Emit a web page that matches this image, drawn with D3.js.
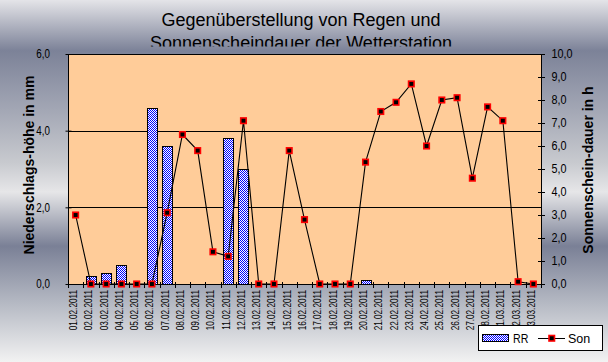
<!DOCTYPE html>
<html>
<head>
<meta charset="utf-8">
<script src="https://cdn.jsdelivr.net/npm/d3@7"></script>
<style>
  html, body { margin: 0; padding: 0; background: #fff; }
  svg { display: block; }
  text { font-family: "Liberation Sans", Arial, sans-serif; fill: #000; }
</style>
</head>
<body>
<div id="chart"></div>
<script>
// data
var categories = ["01.02.2011", "02.02.2011", "03.02.2011", "04.02.2011", "05.02.2011",
  "06.02.2011", "07.02.2011", "08.02.2011", "09.02.2011", "10.02.2011", "11.02.2011",
  "12.02.2011", "13.02.2011", "14.02.2011", "15.02.2011", "16.02.2011", "17.02.2011",
  "18.02.2011", "19.02.2011", "20.02.2011", "21.02.2011", "22.02.2011", "23.02.2011",
  "24.02.2011", "25.02.2011", "26.02.2011", "27.02.2011", "28.02.2011", "01.03.2011",
  "02.03.2011", "03.03.2011"];
var rrValues = [0, 0.2, 0.3, 0.5, 0, 4.6, 3.6, 0, 0, 0, 3.8, 3.0, 0, 0, 0, 0,
  0, 0, 0, 0.1, 0, 0, 0, 0, 0, 0, 0, 0, 0, 0, 0];
var sonValues = [3.0, 0, 0, 0, 0, 0, 3.1, 6.5, 5.8, 1.4, 1.2, 7.1, 0, 0, 5.8, 2.8,
  0, 0, 0, 5.3, 7.5, 7.9, 8.7, 6.0, 8.0, 8.1, 4.6, 7.7, 7.1, 0.1, 0];
var leftTicks = [0, 2, 4, 6];
var rightTicks = [0, 1, 2, 3, 4, 5, 6, 7, 8, 9, 10];
var titleLines = ["Gegenüberstellung von Regen und", "Sonnenscheindauer der Wetterstation"];
var leftTitle = "Niederschlags-höhe in mm";
var rightTitle = "Sonnenschein-dauer in h";
var seriesNames = ["RR", "Son"];

var W = 608, H = 362;
var plot = { left: 68, right: 541, top: 54, bottom: 284 };

var svg = d3.select("#chart").append("svg")
  .attr("width", W).attr("height", H);

var defs = svg.append("defs");
// background gradient
var grad = defs.append("linearGradient").attr("id", "bg")
  .attr("x1", 0).attr("y1", 0).attr("x2", 0).attr("y2", 1);
[[0, "#e4e4e8"], [0.14, "#7c8298"], [0.3, "#a2a6b4"], [0.45, "#c8cacf"],
 [0.53, "#e6e6e8"], [0.68, "#7a8096"], [0.84, "#b6bac4"], [1, "#f2f2f2"]]
  .forEach(function (s) {
    grad.append("stop").attr("offset", s[0]).attr("stop-color", s[1]);
  });
// checker pattern for bars
var pat = defs.append("pattern").attr("id", "chk")
  .attr("width", 2).attr("height", 2).attr("patternUnits", "userSpaceOnUse");
pat.append("rect").attr("width", 2).attr("height", 2).attr("fill", "#fff");
pat.append("rect").attr("width", 1).attr("height", 1).attr("fill", "#0000ff");
pat.append("rect").attr("x", 1).attr("y", 1).attr("width", 1).attr("height", 1).attr("fill", "#0000ff");
defs.append("clipPath").attr("id", "titleClip")
  .append("rect").attr("x", 0).attr("y", 0).attr("width", W).attr("height", 46.5);

svg.append("rect").attr("width", W).attr("height", H).attr("fill", "url(#bg)");

// narrow text (no condensed face installed, so squeeze the glyphs)
function narrowText(sel, px, py, rot, sx) {
  return sel.attr("transform", "translate(" + px + "," + py + ")" +
    (rot ? " rotate(" + rot + ")" : "") + " scale(" + sx + ",1)");
}

// scales
var x = d3.scaleBand().domain(categories).range([plot.left, plot.right]).padding(0);
var yL = d3.scaleLinear().domain([0, 6]).range([plot.bottom, plot.top]);
var yR = d3.scaleLinear().domain([0, 10]).range([plot.bottom, plot.top]);
var fmt = function (d) { return d3.format(".1f")(d).replace(".", ","); };

// plot area
svg.append("rect")
  .attr("x", plot.left).attr("y", plot.top)
  .attr("width", plot.right - plot.left).attr("height", plot.bottom - plot.top)
  .attr("fill", "#ffcc99");

// gridlines
svg.append("g").selectAll("line").data(leftTicks.filter(function (d) { return d > 0 && d < 6; }))
  .enter().append("line")
  .attr("x1", plot.left).attr("x2", plot.right)
  .attr("y1", function (d) { return Math.round(yL(d)) + 0.5; })
  .attr("y2", function (d) { return Math.round(yL(d)) + 0.5; })
  .attr("stroke", "#000").attr("stroke-width", 1);

// bars
var bw = 10;
svg.append("g").selectAll("rect").data(categories.map(function (c, i) { return { c: c, v: rrValues[i] }; })
    .filter(function (d) { return d.v > 0; }))
  .enter().append("rect")
  .attr("x", function (d) { return Math.round(x(d.c) + x.bandwidth() / 2 - bw / 2) + 0.5; })
  .attr("y", function (d) { return Math.round(yL(d.v)) + 0.5; })
  .attr("width", bw)
  .attr("height", function (d) { return Math.round(yL(0)) - Math.round(yL(d.v)); })
  .attr("fill", "url(#chk)")
  .attr("stroke", "#000").attr("stroke-width", 1);

// plot border
svg.append("rect")
  .attr("x", plot.left + 0.5).attr("y", plot.top + 0.5)
  .attr("width", plot.right - plot.left).attr("height", plot.bottom - plot.top)
  .attr("fill", "none").attr("stroke", "#000").attr("stroke-width", 1);

// line series
var line = d3.line()
  .x(function (d, i) { return x(categories[i]) + x.bandwidth() / 2; })
  .y(function (d) { return yR(d); });
svg.append("path").datum(sonValues)
  .attr("d", line).attr("fill", "none")
  .attr("stroke", "#000").attr("stroke-width", 1.1);

svg.append("g").selectAll("rect").data(sonValues).enter().append("rect")
  .attr("x", function (d, i) { return x(categories[i]) + x.bandwidth() / 2 - 2.75; })
  .attr("y", function (d) { return yR(d) - 2.75; })
  .attr("width", 5.5).attr("height", 5.5)
  .attr("fill", "#000").attr("stroke", "#ff0000").attr("stroke-width", 1.6);

// x axis ticks (category boundaries) and labels
var bounds = categories.map(function (c) { return x(c); }).concat([plot.right]);
svg.append("g").selectAll("line").data(bounds).enter().append("line")
  .attr("x1", function (d) { return Math.round(d) + 0.5; })
  .attr("x2", function (d) { return Math.round(d) + 0.5; })
  .attr("y1", plot.bottom - 2).attr("y2", plot.bottom + 4)
  .attr("stroke", "#000");
svg.append("g").selectAll("text").data(categories).enter().append("text")
  .each(function (d) {
    narrowText(d3.select(this), x(d) + x.bandwidth() / 2 + 1.5, plot.bottom + 6, -90, 0.82);
  })
  .attr("text-anchor", "end")
  .style("font-size", "10px")
  .text(function (d) { return d; });

// left axis (ticks from d3, labels squeezed)
var leftAxis = svg.append("g")
  .attr("transform", "translate(" + (plot.left + 3.5) + ",0)")
  .call(d3.axisLeft(yL).tickValues(leftTicks).tickSize(6).tickFormat(""));
leftAxis.select(".domain").remove();
svg.append("g").selectAll("text").data(leftTicks).enter().append("text")
  .each(function (d) { narrowText(d3.select(this), 50, yL(d) + 4.3, 0, 0.82); })
  .attr("text-anchor", "end")
  .style("font-size", "12px")
  .text(fmt);

// right axis
var rightAxis = svg.append("g")
  .attr("transform", "translate(" + (plot.right - 3) + ",0)")
  .call(d3.axisRight(yR).tickValues(rightTicks).tickSize(7).tickFormat(""));
rightAxis.select(".domain").remove();
svg.append("g").selectAll("text").data(rightTicks).enter().append("text")
  .each(function (d) { narrowText(d3.select(this), 551.5, yR(d) + 4.3, 0, 0.9); })
  .style("font-size", "12px")
  .text(fmt);
svg.selectAll(".tick line").attr("stroke", "#000");

// titles
var t = svg.append("g").attr("clip-path", "url(#titleClip)");
t.selectAll("text").data(titleLines).enter().append("text")
  .attr("x", 301).attr("y", function (d, i) { return 26 + i * 22.5; })
  .attr("text-anchor", "middle")
  .style("font-size", "18px")
  .text(function (d) { return d; });

svg.append("text")
  .attr("transform", "translate(34," + 165 + ") rotate(-90)")
  .attr("text-anchor", "middle")
  .style("font-size", "14px").style("font-weight", "bold")
  .text(leftTitle);
svg.append("text")
  .attr("transform", "translate(593," + 170 + ") rotate(-90)")
  .attr("text-anchor", "middle")
  .style("font-size", "14px").style("font-weight", "bold")
  .text(rightTitle);

// legend
var lg = svg.append("g");
lg.append("rect").attr("x", 478.5).attr("y", 325.5).attr("width", 124).attr("height", 25)
  .attr("fill", "#fff").attr("stroke", "#000");
lg.append("rect").attr("x", 482.5).attr("y", 334.5).attr("width", 26).attr("height", 7)
  .attr("fill", "url(#chk)").attr("stroke", "#000");
lg.append("text").call(narrowText, 513, 343, 0, 0.85)
  .style("font-size", "12.5px").text(seriesNames[0]);
lg.append("line").attr("x1", 538).attr("x2", 565).attr("y1", 338.5).attr("y2", 338.5)
  .attr("stroke", "#000");
lg.append("rect").attr("x", 549).attr("y", 335.5).attr("width", 5.5).attr("height", 5.5)
  .attr("fill", "#000").attr("stroke", "#ff0000").attr("stroke-width", 1.6);
lg.append("text").call(narrowText, 568, 343, 0, 1)
  .style("font-size", "12.5px").text(seriesNames[1]);
</script>
</body>
</html>
